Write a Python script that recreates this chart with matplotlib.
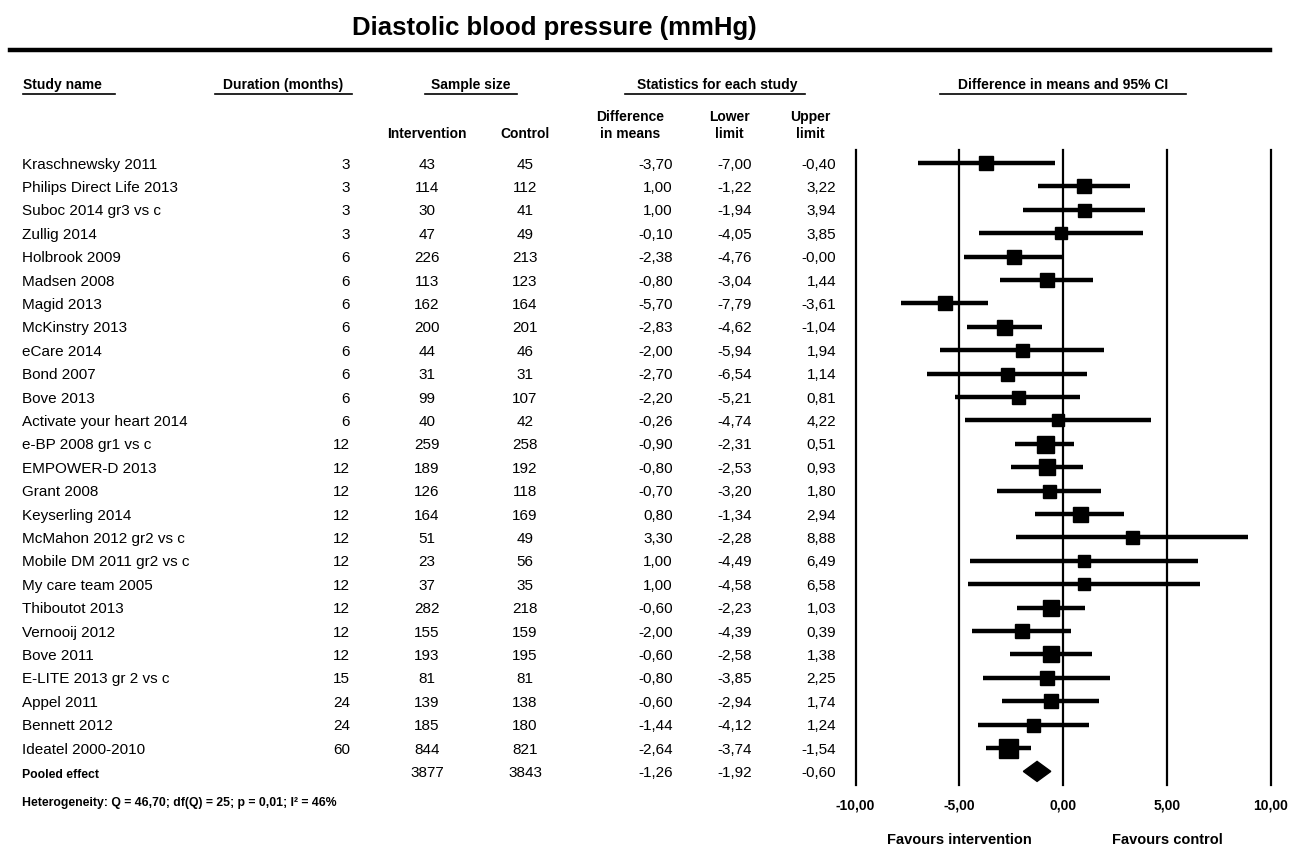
import matplotlib
matplotlib.use("Agg")
import matplotlib.pyplot as plt
from matplotlib.transforms import blended_transform_factory
from matplotlib.lines import Line2D

plt.rcParams['font.family'] = ['Liberation Sans', 'DejaVu Sans']

# ---------------- data ----------------
study_names = ["Kraschnewsky 2011", "Philips Direct Life 2013", "Suboc 2014 gr3 vs c",
               "Zullig 2014", "Holbrook 2009", "Madsen 2008", "Magid 2013",
               "McKinstry 2013", "eCare 2014", "Bond 2007", "Bove 2013",
               "Activate your heart 2014", "e-BP 2008 gr1 vs c", "EMPOWER-D 2013",
               "Grant 2008", "Keyserling 2014", "McMahon 2012 gr2 vs c",
               "Mobile DM 2011 gr2 vs c", "My care team 2005", "Thiboutot 2013",
               "Vernooij 2012", "Bove 2011", "E-LITE 2013 gr 2 vs c", "Appel 2011",
               "Bennett 2012", "Ideatel 2000-2010"]
duration = [3, 3, 3, 3, 6, 6, 6, 6, 6, 6, 6, 6, 12, 12, 12, 12, 12, 12, 12, 12, 12, 12,
            15, 24, 24, 60]
n_intervention = [43, 114, 30, 47, 226, 113, 162, 200, 44, 31, 99, 40, 259, 189, 126,
                  164, 51, 23, 37, 282, 155, 193, 81, 139, 185, 844]
n_control = [45, 112, 41, 49, 213, 123, 164, 201, 46, 31, 107, 42, 258, 192, 118, 169,
             49, 56, 35, 218, 159, 195, 81, 138, 180, 821]
diff_means = [-3.70, 1.00, 1.00, -0.10, -2.38, -0.80, -5.70, -2.83, -2.00, -2.70, -2.20,
              -0.26, -0.90, -0.80, -0.70, 0.80, 3.30, 1.00, 1.00, -0.60, -2.00, -0.60,
              -0.80, -0.60, -1.44, -2.64]
lower_limit = [-7.00, -1.22, -1.94, -4.05, -4.76, -3.04, -7.79, -4.62, -5.94, -6.54,
               -5.21, -4.74, -2.31, -2.53, -3.20, -1.34, -2.28, -4.49, -4.58, -2.23,
               -4.39, -2.58, -3.85, -2.94, -4.12, -3.74]
upper_limit = [-0.40, 3.22, 3.94, 3.85, -0.00, 1.44, -3.61, -1.04, 1.94, 1.14, 0.81,
               4.22, 0.51, 0.93, 1.80, 2.94, 8.88, 6.49, 6.58, 1.03, 0.39, 1.38, 2.25,
               1.74, 1.24, -1.54]
pooled_n_int = 3877
pooled_n_ctl = 3843
pooled_diff = -1.26
pooled_lower = -1.92
pooled_upper = -0.60
x_ticks = [-10, -5, 0, 5, 10]
heterogeneity = "Heterogeneity: Q = 46,70; df(Q) = 25; p = 0,01; I\u00b2 = 46%"

# ---------------- style ----------------
marker_px = [14, 14, 13, 12, 14, 14, 14, 15, 13, 13, 13, 12, 17, 16, 13, 15, 13, 12, 12,
             16, 14, 16, 14, 14, 13, 19]

W, H = 1292, 855
fig = plt.figure(figsize=(W / 100, H / 100), dpi=100)
fig.patch.set_facecolor('white')


def fx(px):
    return px / W


def fy(py):
    return 1 - py / H


ROW0, STEP = 163.0, 23.4
ax_top, ax_bot = 150.0, 785.0
ax = fig.add_axes([fx(855.5), fy(ax_bot), (1271 - 855.5) / W, (ax_bot - ax_top) / H])
ax.set_xlim(-10, 10)
ax.set_ylim((ax_bot - ROW0) / STEP, (ax_top - ROW0) / STEP)
ax.axis('off')

for t in x_ticks:
    ax.axvline(t, color='black', lw=1.6, zorder=1, clip_on=False)

rows = list(range(len(study_names)))
ax.hlines(rows, lower_limit, upper_limit, color='black', lw=3.2, zorder=2, clip_on=False)
for r, d, s in zip(rows, diff_means, marker_px):
    ax.plot([d], [r], marker='s', color='black', markersize=s * 0.72, zorder=3,
            clip_on=False)

pr = len(study_names)
hh = 10.0 / STEP
ax.fill([pooled_lower, pooled_diff, pooled_upper, pooled_diff],
        [pr, pr - hh, pr, pr + hh], color='black', zorder=3, clip_on=False)


def fmt(v):
    return f"{v:.2f}".replace('.', ',')


# text columns
tr = blended_transform_factory(fig.transFigure, ax.transData)
fs = 11
for r in rows:
    kw = dict(transform=tr, fontsize=fs, va='center_baseline')
    fig.text(fx(22), r, study_names[r], ha='left', **kw)
    fig.text(fx(350), r, str(duration[r]), ha='right', **kw)
    fig.text(fx(427), r, str(n_intervention[r]), ha='center', **kw)
    fig.text(fx(525), r, str(n_control[r]), ha='center', **kw)
    fig.text(fx(673), r, fmt(diff_means[r]), ha='right', **kw)
    fig.text(fx(752), r, fmt(lower_limit[r]), ha='right', **kw)
    fig.text(fx(836), r, fmt(upper_limit[r]), ha='right', **kw)

# pooled row
kw = dict(transform=tr, fontsize=fs, va='center_baseline')
fig.text(fx(22), pr + 0.1, "Pooled effect", ha='left', transform=tr, fontsize=8.8,
         fontweight='bold', va='center_baseline')
fig.text(fx(427), pr, str(pooled_n_int), ha='center', **kw)
fig.text(fx(525), pr, str(pooled_n_ctl), ha='center', **kw)
fig.text(fx(673), pr, fmt(pooled_diff), ha='right', **kw)
fig.text(fx(752), pr, fmt(pooled_lower), ha='right', **kw)
fig.text(fx(836), pr, fmt(pooled_upper), ha='right', **kw)

fig.text(fx(22), fy(803), heterogeneity, ha='left', va='center', fontsize=8.8,
         fontweight='bold')

# tick labels
trx = blended_transform_factory(ax.transData, fig.transFigure)
for t in x_ticks:
    fig.text(t, fy(805), fmt(t), transform=trx, ha='center', va='center', fontsize=10,
             fontweight='bold')
fig.text(-5, fy(840), "Favours intervention", transform=trx, ha='center', va='center',
         fontsize=10.5, fontweight='bold')
fig.text(5, fy(840), "Favours control", transform=trx, ha='center', va='center',
         fontsize=10.5, fontweight='bold')

# title and rule
fig.text(fx(554), fy(28), "Diastolic blood pressure (mmHg)", ha='center', va='center',
         fontsize=18.5, fontweight='bold')
fig.add_artist(Line2D([fx(10), fx(1270)], [fy(50), fy(50)], color='black', lw=3.2,
                      transform=fig.transFigure))

# headers
headers = [("Study name", 23, 'left', 23, 115),
           ("Duration (months)", 283, 'center', 215, 352),
           ("Sample size", 471, 'center', 425, 517),
           ("Statistics for each study", 717, 'center', 625, 805),
           ("Difference in means and 95% CI", 1063, 'center', 940, 1186)]
for txt, x, ha, u0, u1 in headers:
    fig.text(fx(x), fy(85), txt, ha=ha, va='center', fontsize=10, fontweight='bold')
    fig.add_artist(Line2D([fx(u0), fx(u1)], [fy(94), fy(94)], color='black', lw=1.2,
                          transform=fig.transFigure))

subs = [("Intervention", 427), ("Control", 525), ("Difference\nin means", 630),
        ("Lower\nlimit", 729), ("Upper\nlimit", 810)]
for txt, x in subs:
    fig.text(fx(x), fy(141), txt, ha='center', va='bottom', fontsize=10,
             fontweight='bold', linespacing=1.25)

fig.savefig("out.png", dpi=100, facecolor='white')
